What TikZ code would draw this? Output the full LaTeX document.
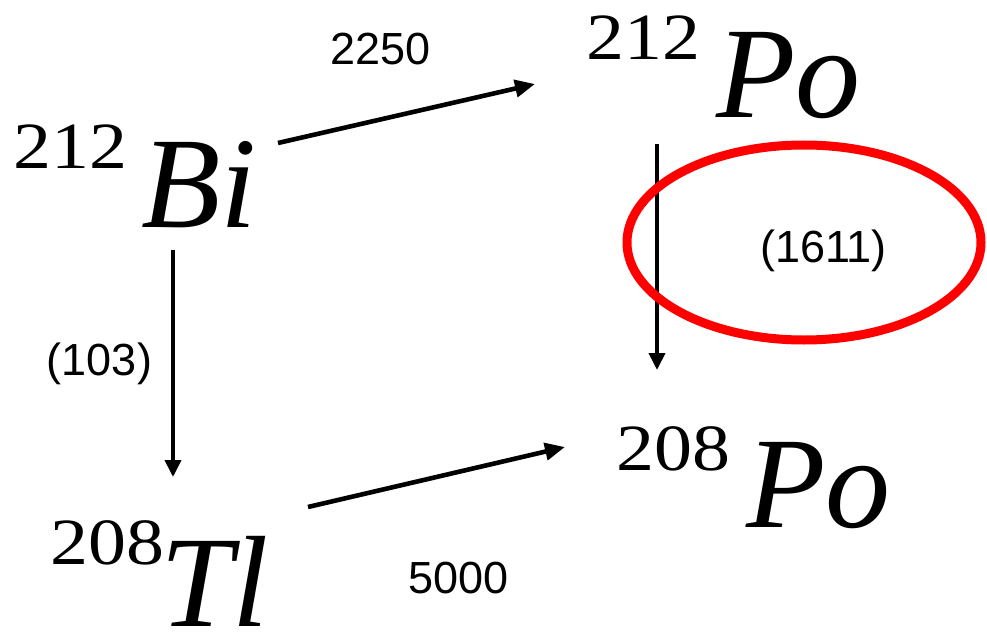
\documentclass[tikz,border=0pt]{standalone}
\usepackage{fontspec}
\setmainfont{Liberation Serif}
\newfontfamily\lblfont{Liberation Sans}
\usepackage{tikz}
\usetikzlibrary{arrows.meta, positioning, calc}

% mass number raised by #1, gap #3 before the symbol
\newcommand{\nucl}[4]{%
  \raisebox{#1}{\fontsize{66}{66}\selectfont\scalebox{1.15}[1]{#2}}%
  \hspace*{#3}{\fontsize{130}{130}\selectfont\itshape #4}}

\tikzset{
  nuc/.style={anchor=base west, inner sep=0pt, text depth=0pt},
  rate/.style={anchor=base, inner sep=0pt, font=\lblfont\fontsize{45}{45}\selectfont},
  decay/.style={line width=4.6pt, -{Triangle[length=20pt, width=17pt]}},
  decayv/.style={line width=3.8pt, -{Triangle[length=17pt, width=16pt]}}
}

\begin{document}
\begin{tikzpicture}[x=1pt, y=-1pt]
  \useasboundingbox (0,0) rectangle (987,639);

  % Nuclides
  \node[nuc] (bi)   at (13,227)  {\nucl{59pt}{212}{14pt}{Bi}};
  \node[nuc] (po1)  at (586,118) {\nucl{58pt}{212}{16pt}{Po}};
  \node[nuc] (po2)  at (616,527) {\nucl{57pt}{208}{16pt}{Po}};
  \node[nuc] (tl)   at (50,626)  {\nucl{62pt}{208}{-4pt}{Tl}};

  % Arrow ends
  \coordinate (bi-r)  at (278,143);
  \coordinate (po1-l) at (535,84);
  \coordinate (bi-b)  at (173,250);
  \coordinate (tl-t)  at (173,477);
  \coordinate (po1-b) at (657,144);
  \coordinate (po2-t) at (657,370);
  \coordinate (tl-r)  at (308,507);
  \coordinate (po2-l) at (565,447);

  % Decay arrows
  \draw[decay]  (bi-r) -- (po1-l);
  \draw[decayv] (bi-b) -- (tl-t);
  \draw[decayv] (po1-b) -- (po2-t);
  \draw[decay]  (tl-r) -- (po2-l);

  % Labels
  \node[rate] (r1) at (380.5,65)  {2250};
  \node[rate] (r2) at (99.5,375)  {(103)};
  \node[rate] (r3) at (823.5,262) {(1611)};
  \node[rate] (r4) at (458.5,593) {5000};

  % Highlight
  \draw[red, line width=9pt] (804,242.5) ellipse [x radius=177pt, y radius=97.5pt];
\end{tikzpicture}
\end{document}
